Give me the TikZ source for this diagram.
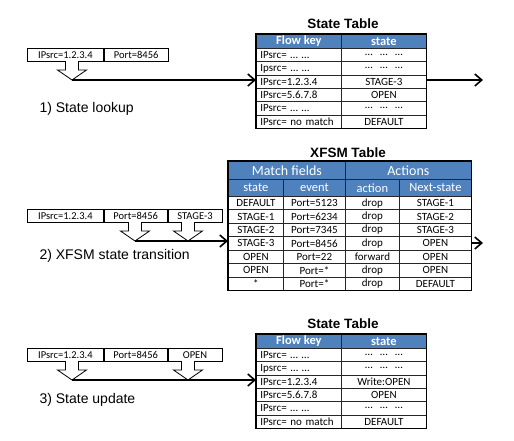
\documentclass[tikz,border=0pt]{standalone}
\usepackage{fontspec}
\setmainfont{Carlito}
\newfontfamily\arialfont{Liberation Sans}
\usetikzlibrary{positioning,arrows.meta}
\definecolor{hdrblue}{RGB}{79,129,189}
\tikzset{
  cell/.style={draw=black!85, line width=0.8pt, inner sep=0pt, anchor=north west,
    minimum height=13.33pt, font=\fontsize{11}{12}\selectfont},
  keycell/.style={cell, text width=77pt, inner xsep=4pt, minimum width=85pt, align=left},
  valcell/.style={cell, minimum width=85pt},
  hdrcell/.style={cell, fill=hdrblue, text=white, minimum height=14pt,
    font=\fontsize{12.5}{14}\bfseries\selectfont},
  xhdr/.style={cell, fill=hdrblue, text=white, font=\fontsize{12.5}{14}\selectfont},
  pkt/.style={draw, line width=0.8pt, minimum height=13pt, inner sep=0pt,
    anchor=north west, font=\fontsize{10.5}{12}\selectfont},
  ttl/.style={font=\arialfont\bfseries\fontsize{13.5}{16}\selectfont},
  caption/.style={font=\arialfont\fontsize{14}{16}\selectfont, anchor=west},
  hollow/.style={draw, line width=0.8pt, fill=white},
  conn/.style={line width=1.6pt, -{Straight Barb[length=7pt,width=12pt]}}
}
\begin{document}
\begin{tikzpicture}[x=1pt,y=-1pt]
    \useasboundingbox (0,0) rectangle (514,440);
    % State tables (lookup and update)
    \foreach \T/\ty/\stv/\tt in {s1/34/STAGE-3/24, s3/334/Write:OPEN/324} {
        \node[ttl] (\T-title) at (343,\tt) {State Table};
        \node[hdrcell, minimum width=85pt] (\T-h1) at (256,\ty) {Flow key};
        \node[hdrcell, minimum width=85pt] (\T-h2) at (341,\ty) {state};
        \foreach \k/\v [count=\i] in {IPsrc= … …/…\ \ \ …\ \ \ …, Ipsrc= … …/…\ \ \ …\ \ \ …,
            IPsrc=1.2.3.4/\stv, IPsrc=5.6.7.8/OPEN, IPsrc= … …/…\ \ \ …\ \ \ …,
            IPsrc= no match/DEFAULT} {
            \node[keycell] (\T-k\i) at (256,{\ty+14+(\i-1)*13.33}) {\k};
            \node[valcell] (\T-v\i) at (341,{\ty+14+(\i-1)*13.33}) {\v};
        }
        \draw[line width=1.3pt] (\T-h1.north west) rectangle (\T-v6.south east);
    }
    % XFSM table
    \node[ttl] (x-title) at (348,153) {XFSM Table};
    \node[xhdr, minimum width=117pt, minimum height=18pt, font=\fontsize{14}{16}\selectfont] (x-match) at (228,161) {Match fields};
    \node[xhdr, minimum width=126pt, minimum height=18pt, font=\fontsize{14}{16}\selectfont] (x-act) at (345,161) {Actions};
    \node[xhdr, minimum width=55pt, minimum height=17pt] (x-h1) at (228,179) {state};
    \node[xhdr, minimum width=62pt, minimum height=17pt] (x-h2) at (283,179) {event};
    \node[xhdr, minimum width=54pt, minimum height=17pt] (x-h3) at (345,179) {action};
    \node[xhdr, minimum width=72pt, minimum height=17pt] (x-h4) at (399,179) {Next-state};
    \foreach \a/\b/\c/\d [count=\i] in {DEFAULT/Port=5123/drop/STAGE-1,
        STAGE-1/Port=6234/drop/STAGE-2, STAGE-2/Port=7345/drop/STAGE-3,
        STAGE-3/Port=8456/drop/OPEN, OPEN/Port=22/forward/OPEN,
        OPEN/Port=*/drop/OPEN, */Port=*/drop/DEFAULT} {
        \node[cell, minimum width=55pt, minimum height=13.43pt] (x-a\i) at (228,{196+(\i-1)*13.43}) {\a};
        \node[cell, minimum width=62pt, minimum height=13.43pt] (x-b\i) at (283,{196+(\i-1)*13.43}) {\b};
        \node[cell, minimum width=54pt, minimum height=13.43pt] (x-c\i) at (345,{196+(\i-1)*13.43}) {\c};
        \node[cell, minimum width=72pt, minimum height=13.43pt] (x-d\i) at (399,{196+(\i-1)*13.43}) {\d};
    }
    \draw[line width=1.3pt] (x-match.north west) rectangle (x-d7.south east);
    % Packet headers
    \node[pkt, minimum width=76pt] (p1-ip) at (27,48) {IPsrc=1.2.3.4};
    \node[pkt, minimum width=64pt] (p1-port) at (p1-ip.north east) {Port=8456};
    \node[pkt, minimum width=76pt] (p2-ip) at (27,209) {IPsrc=1.2.3.4};
    \node[pkt, minimum width=63pt] (p2-port) at (p2-ip.north east) {Port=8456};
    \node[pkt, minimum width=54pt] (p2-st) at (p2-port.north east) {STAGE-3};
    \node[pkt, minimum width=76pt] (p3-ip) at (27,348) {IPsrc=1.2.3.4};
    \node[pkt, minimum width=63pt] (p3-port) at (p3-ip.north east) {Port=8456};
    \node[pkt, minimum width=54pt] (p3-st) at (p3-port.north east) {OPEN};
    % Hollow arrows, tip = named coordinate
    \foreach \cx/\cy/\nm in {72/61/a1, 135/222/a2, 188/222/a2b, 72/361/a3, 188/361/a3b} {
        \draw[hollow] (\cx-6.5,\cy) -- ++(0,9) -- ++(-8,0) -- (\cx,\cy+19)
            -- (\cx+14.5,\cy+9) -- ++(-8,0) -- ++(0,-9);
        \coordinate (\nm) at (\cx,\cy+19);
    }
    % Connectors
    \coordinate (out1) at (483,80);
    \coordinate (out2) at (483,243);
    \draw[conn] (a1) -- (a1 -| s1-k3.west);
    \draw[conn] (s1-v3.east |- out1) -- (out1);
    \draw[conn] (a2) -- (a2 -| x-a4.west);
    \draw[conn] (x-d4.east |- out2) -- (out2);
    \draw[conn] (a3) -- (a3 -| s3-k3.west);
    % Step captions
    \node[caption] (c1) at (36,109) {1) State lookup};
    \node[caption] (c2) at (36,256) {2) XFSM state transition};
    \node[caption] (c3) at (36,400) {3) State update};
\end{tikzpicture}
\end{document}
